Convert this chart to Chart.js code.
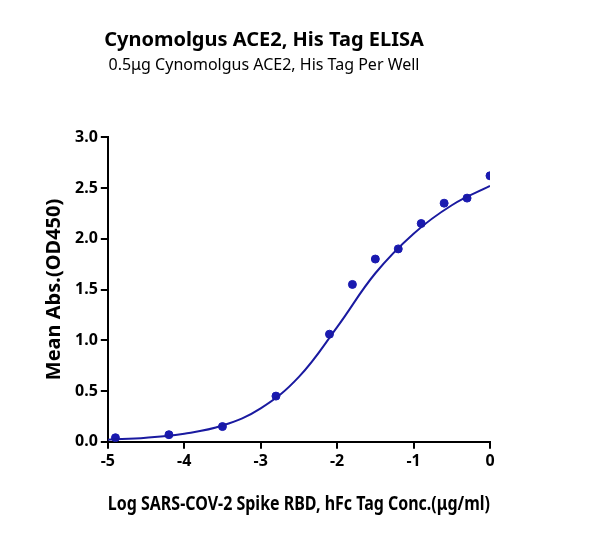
<!DOCTYPE html><html><head><script src="https://cdn.jsdelivr.net/npm/chart.js@4"></script>
<style>body{margin:0;background:#fff}#w{width:600px;height:540px}</style></head><body><div id="w"><canvas id="c"></canvas></div>
<script>
const pointX=[-4.9,-4.2,-3.5,-2.8,-2.1,-1.8,-1.5,-1.2,-0.9,-0.6,-0.3,0];
const pointY=[0.04,0.07,0.15,0.45,1.06,1.55,1.8,1.9,2.15,2.35,2.4,2.62];
const curveX=[-5,-4.5,-4,-3.5,-3,-2.5,-2,-1.5,-1,-0.5,0];
const curveY=[0.02,0.04,0.08,0.16,0.33,0.64,1.13,1.66,2.05,2.33,2.52];
const xTicks=[-5,-4,-3,-2,-1,0];
const yTicks=[0,0.5,1,1.5,2,2.5,3];
const F='"Noto Sans", "Open Sans", sans-serif';
new Chart(document.getElementById('c'),{
 type:'scatter',
 data:{datasets:[
  {type:'line',data:curveX.map((x,i)=>({x,y:curveY[i]})),borderColor:'#1a1aa0',borderWidth:2,pointRadius:0,tension:0.4,fill:false},
  {data:pointX.map((x,i)=>({x,y:pointY[i]})),backgroundColor:'#1a1ab0',borderColor:'#1a1ab0',pointRadius:4}
 ]},
 options:{responsive:true,maintainAspectRatio:false,animation:false,
  layout:{padding:{left:38,right:110,top:10,bottom:20}},
  plugins:{legend:{display:false},tooltip:{enabled:false},
   title:{display:true,text:'Cynomolgus ACE2, His Tag ELISA',font:{family:F,size:20,weight:'bold'},color:'#000',padding:{top:18,bottom:4}},
   subtitle:{display:true,text:'0.5μg Cynomolgus ACE2, His Tag Per Well',font:{family:F,size:16},color:'#000',padding:{bottom:62}}},
  scales:{
   x:{type:'linear',min:-5,max:0,afterBuildTicks:a=>{a.ticks=xTicks.map(v=>({value:v}))},
    grid:{display:true,drawOnChartArea:false,drawTicks:true,tickLength:7,tickColor:'#000',lineWidth:2},border:{color:'#000',width:2},
    ticks:{color:'#000',font:{family:F,size:16,weight:'bold'}},
    title:{display:true,text:'Log SARS-COV-2 Spike RBD, hFc Tag Conc.(μg/ml)',font:{family:F,size:20,weight:'bold'},color:'#000',padding:{top:18}}},
   y:{min:0,max:3,afterBuildTicks:a=>{a.ticks=yTicks.map(v=>({value:v}))},
    grid:{display:true,drawOnChartArea:false,drawTicks:true,tickLength:7,tickColor:'#000',lineWidth:2},border:{color:'#000',width:2},
    ticks:{color:'#000',font:{family:F,size:16,weight:'bold'},callback:v=>v.toFixed(1)},
    title:{display:true,text:'Mean Abs.(OD450)',font:{family:F,size:20,weight:'bold'},color:'#000',padding:{bottom:6}}}
  }}
});
</script></body></html>
